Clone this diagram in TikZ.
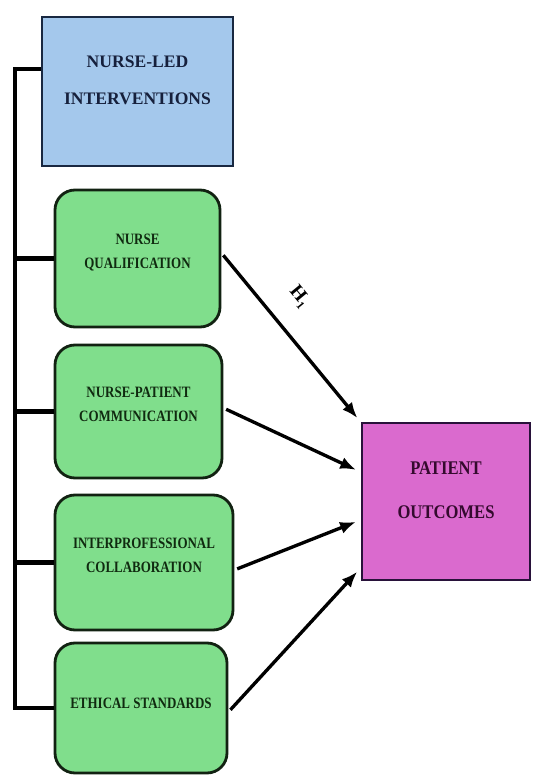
\documentclass[tikz,border=0pt]{standalone}
\usepackage{fontspec}
\setmainfont{Liberation Serif}
\newfontfamily\narrowserif[FakeStretch=0.82]{Liberation Serif}
\newfontfamily\wideserif[FakeStretch=0.86]{Liberation Serif}
\usetikzlibrary{arrows.meta}

\definecolor{leadfill}{RGB}{164,200,236}
\definecolor{leadline}{RGB}{25,40,65}
\definecolor{leadtext}{RGB}{22,32,60}
\definecolor{itemfill}{RGB}{128,222,140}
\definecolor{itemline}{RGB}{18,34,18}
\definecolor{itemtext}{RGB}{16,42,16}
\definecolor{outfill}{RGB}{218,106,206}
\definecolor{outline}{RGB}{40,18,58}
\definecolor{outtext}{RGB}{52,10,46}

\tikzset{
  leadbox/.style={draw=leadline, fill=leadfill, line width=1.6pt, align=center,
    minimum width=3.82cm, minimum height=2.98cm, text=leadtext, text depth=0.46cm,
    font=\bfseries\fontsize{10}{21}\selectfont},
  itembox/.style={draw=itemline, fill=itemfill, line width=1.6pt, rounded corners=0.4cm,
    align=center, minimum height=2.7cm, text=itemtext, text depth=0.28cm,
    font=\narrowserif\bfseries\fontsize{9}{13.6}\selectfont},
  outbox/.style={draw=outline, fill=outfill, line width=1.6pt, align=center,
    minimum width=3.36cm, minimum height=3.14cm, text=outtext, text depth=0.46cm,
    font=\wideserif\bfseries\fontsize{11}{25}\selectfont},
  bracket/.style={line width=2.3pt},
  effect/.style={->, >={Latex[length=9pt,width=7pt]}, line width=1.9pt,
    shorten <=0.06cm, shorten >=0.1cm}
}

\begin{document}
\begin{tikzpicture}
  \useasboundingbox (0,0) rectangle (10.68,15.5);

  \node[leadbox] (lead) at (2.75,13.67) {NURSE-LED\\INTERVENTIONS};
  \node[itembox, minimum width=3.3cm, minimum height=2.74cm] (qual) at (2.75,10.33) {NURSE\\QUALIFICATION};
  \node[itembox, minimum width=3.34cm, minimum height=2.66cm] (comm) at (2.77,7.27) {NURSE-PATIENT\\COMMUNICATION};
  \node[itembox, minimum width=3.56cm] (collab) at (2.88,4.25) {INTERPROFESSIONAL\\COLLABORATION};
  \node[itembox, minimum width=3.44cm, minimum height=2.6cm, text depth=0.2cm] (ethic) at (2.82,1.34) {ETHICAL STANDARDS};
  \node[outbox] (out) at (8.92,5.47) {PATIENT\\OUTCOMES};

  % bracket on the left
  \coordinate (trunk) at (0.3,14.12);
  \draw[bracket] (trunk -| lead.west) -- (trunk) -- (trunk |- ethic.west) -- (ethic.west);
  \foreach \n in {qual,comm,collab}
    \draw[bracket] (trunk |- \n.west) -- (\n.west);

  % arrows to the outcome
  \draw[effect] ([yshift=0.11cm]qual.east) -- node[pos=0.38, sloped, above=0.33cm, font=\bfseries\fontsize{11}{12}\selectfont] {H₁} ([yshift=1.59cm]out.west);
  \draw[effect] ([yshift=0.07cm]comm.east) -- ([yshift=0.59cm]out.west);
  \draw[effect] ([yshift=-0.15cm]collab.east) -- ([yshift=-0.37cm]out.west);
  \draw[effect] ([yshift=-0.08cm]ethic.east) -- ([yshift=-1.33cm]out.west);
\end{tikzpicture}
\end{document}
